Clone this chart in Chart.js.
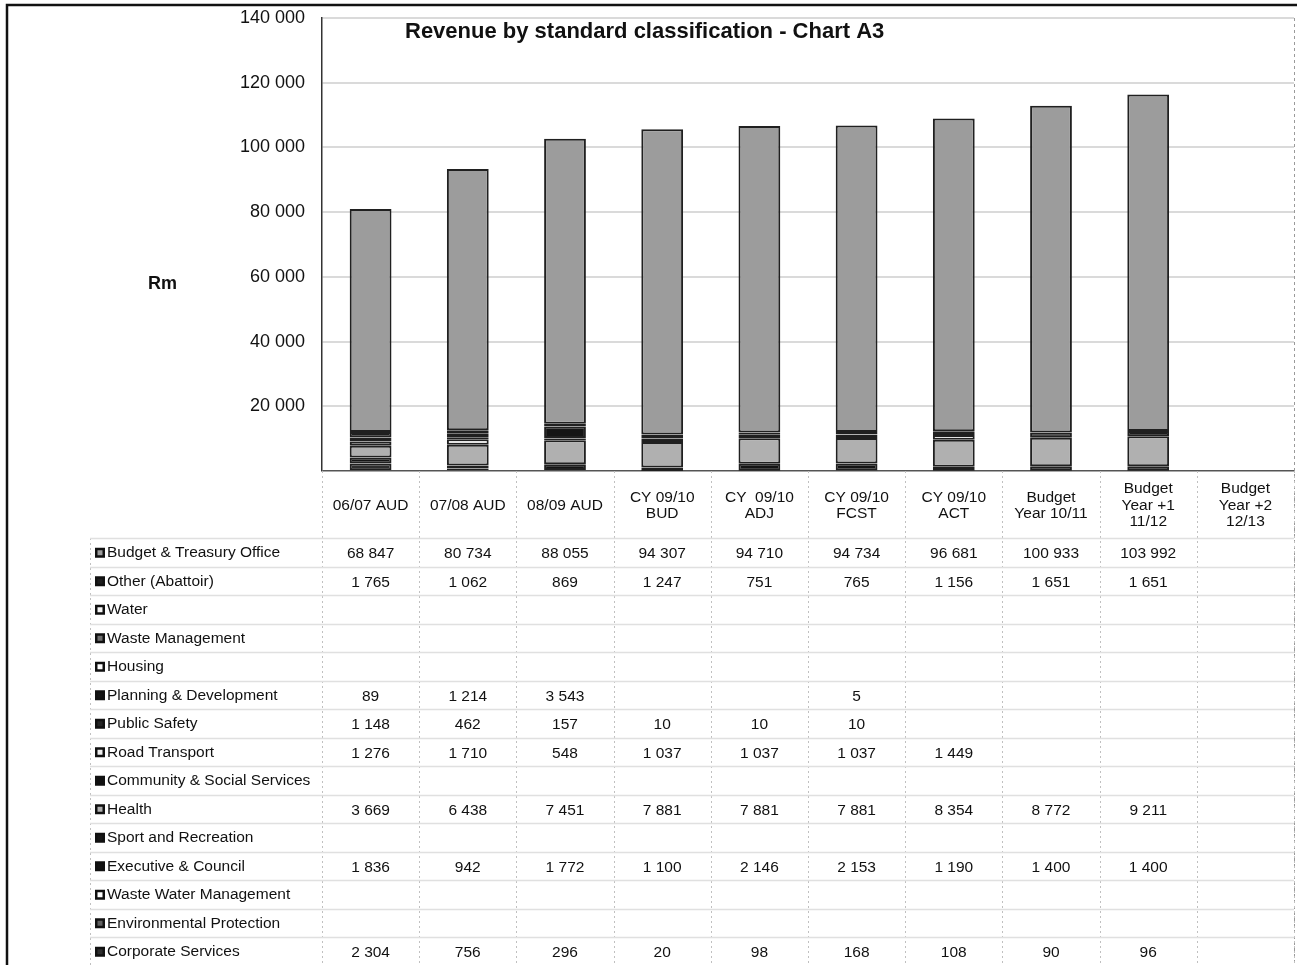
<!DOCTYPE html>
<html>
<head>
<meta charset="utf-8">
<script src="https://cdn.jsdelivr.net/npm/chart.js@4/dist/chart.umd.min.js"></script>
<style>
  html, body { margin: 0; padding: 0; background: #fff; }
  #wrap { width: 1297px; height: 965px; position: relative; }
</style>
</head>
<body>
<div id="wrap"><canvas id="revChart" width="1297" height="965"></canvas></div>
<script>
// column headings (one entry per line of the header cell)
const categories = [
  ['06/07 AUD'], ['07/08 AUD'], ['08/09 AUD'],
  ['CY 09/10', 'BUD'], ['CY  09/10', 'ADJ'], ['CY 09/10', 'FCST'], ['CY 09/10', 'ACT'],
  ['Budget', 'Year 10/11'], ['Budget', 'Year +1', '11/12'], ['Budget', 'Year +2', '12/13']
];

const budgetTreasury = [68847, 80734, 88055, 94307, 94710, 94734, 96681, 100933, 103992, null];
const otherAbattoir = [1765, 1062, 869, 1247, 751, 765, 1156, 1651, 1651, null];
const water = [null, null, null, null, null, null, null, null, null, null];
const wasteManagement = [null, null, null, null, null, null, null, null, null, null];
const housing = [null, null, null, null, null, null, null, null, null, null];
const planningDev = [89, 1214, 3543, null, null, 5, null, null, null, null];
const publicSafety = [1148, 462, 157, 10, 10, 10, null, null, null, null];
const roadTransport = [1276, 1710, 548, 1037, 1037, 1037, 1449, null, null, null];
const communitySocial = [null, null, null, null, null, null, null, null, null, null];
const health = [3669, 6438, 7451, 7881, 7881, 7881, 8354, 8772, 9211, null];
const sportRecreation = [null, null, null, null, null, null, null, null, null, null];
const executiveCouncil = [1836, 942, 1772, 1100, 2146, 2153, 1190, 1400, 1400, null];
const wasteWater = [null, null, null, null, null, null, null, null, null, null];
const environmental = [null, null, null, null, null, null, null, null, null, null];
const corporateServices = [2304, 756, 296, 20, 98, 168, 108, 90, 96, null];

const yTicks = [0, 20000, 40000, 60000, 80000, 100000, 120000, 140000];

// table order (top row first); the stack is built the other way round
const seriesNames = [
  'Budget & Treasury Office', 'Other (Abattoir)', 'Water', 'Waste Management', 'Housing',
  'Planning & Development', 'Public Safety', 'Road Transport', 'Community & Social Services',
  'Health', 'Sport and Recreation', 'Executive & Council', 'Waste Water Management',
  'Environmental Protection', 'Corporate Services'
];
const seriesValues = [
  budgetTreasury, otherAbattoir, water, wasteManagement, housing,
  planningDev, publicSafety, roadTransport, communitySocial,
  health, sportRecreation, executiveCouncil, wasteWater,
  environmental, corporateServices
];
const seriesColors = [
  '#9c9c9c', '#1e1e1e', '#f4f4f4', '#707070', '#ffffff',
  '#151515', '#262626', '#eeeeee', '#111111',
  '#b0b0b0', '#181818', '#141414', '#ffffff',
  '#606060', '#2e2e2e'
];

const FONT = '"Liberation Sans", Arial, sans-serif';

function fmt(v) {
  return String(v).replace(/\B(?=(\d{3})+(?!\d))/g, ' ');
}

const datasets = seriesNames.map((name, i) => ({
  label: name,
  data: seriesValues[i],
  backgroundColor: seriesColors[i],
  borderColor: '#202020',
  borderWidth: 2,
  borderSkipped: false,
  barPercentage: 0.43,
  categoryPercentage: 1.0
})).reverse();

const TABLE_TOP_PAD = 494;
const ROW_H = 28.5;
const HEADER_H = 67;
const LEG_LEFT = 90;

const tablePlugin = {
  id: 'dataTable',
  afterDraw(chart) {
    const ctx = chart.ctx;
    const area = chart.chartArea;
    const xs = chart.scales.x;
    const n = categories.length;
    const colW = (area.right - area.left) / n;
    const top = area.bottom;
    const rowsTop = top + HEADER_H;
    ctx.save();

    // outer frame
    ctx.strokeStyle = '#111';
    ctx.lineWidth = 2.5;
    ctx.beginPath();
    ctx.moveTo(7, 965); ctx.lineTo(7, 5); ctx.lineTo(1297, 5);
    ctx.stroke();

    // right edge of the plot
    ctx.strokeStyle = '#9a9a9a';
    ctx.lineWidth = 1;
    ctx.setLineDash([3, 3]);
    ctx.beginPath();
    ctx.moveTo(area.right + 0.5, area.top);
    ctx.lineTo(area.right + 0.5, 965);
    ctx.stroke();

    // table grid
    ctx.strokeStyle = '#c0c0c0';
    ctx.setLineDash([2, 3]);
    for (let i = 0; i <= n; i++) {
      const x = Math.round(area.left + i * colW) + 0.5;
      ctx.beginPath();
      ctx.moveTo(x, top);
      ctx.lineTo(x, 965);
      ctx.stroke();
    }
    ctx.beginPath();
    ctx.moveTo(LEG_LEFT + 0.5, rowsTop);
    ctx.lineTo(LEG_LEFT + 0.5, 965);
    ctx.stroke();
    ctx.setLineDash([]);
    ctx.strokeStyle = '#e0e0e0';
    ctx.lineWidth = 1.5;
    for (let r = 0; r <= seriesNames.length; r++) {
      const y = Math.round(rowsTop + r * ROW_H) + 0.5;
      ctx.beginPath();
      ctx.moveTo(LEG_LEFT, y);
      ctx.lineTo(area.right, y);
      ctx.stroke();
    }

    // header cells
    ctx.fillStyle = '#111';
    ctx.font = '15.5px ' + FONT;
    ctx.textAlign = 'center';
    ctx.textBaseline = 'middle';
    categories.forEach((lines, i) => {
      const cx = xs.getPixelForValue(i);
      const cy = top + HEADER_H / 2 + 1;
      lines.forEach((t, k) => {
        ctx.fillText(t, cx, cy + (k - (lines.length - 1) / 2) * 16.5);
      });
    });

    // rows
    seriesNames.forEach((name, r) => {
      const cy = rowsTop + r * ROW_H + ROW_H / 2 + 0.5;
      // legend key
      ctx.fillStyle = '#111';
      ctx.fillRect(95, cy - 5, 10, 10);
      ctx.fillStyle = seriesColors[r];
      ctx.fillRect(97.5, cy - 2.5, 5, 5);
      ctx.fillStyle = '#111';
      ctx.textAlign = 'left';
      ctx.fillText(name, 107, cy);
      ctx.textAlign = 'center';
      seriesValues[r].forEach((v, i) => {
        if (v === null) return;
        ctx.fillText(fmt(v), xs.getPixelForValue(i), cy + 1);
      });
    });

    // title and axis title
    ctx.textAlign = 'left';
    ctx.font = 'bold 22px ' + FONT;
    ctx.fillText('Revenue by standard classification - Chart A3', 405, 32);
    ctx.font = 'bold 18px ' + FONT;
    ctx.fillText('Rm', 148, 284);
    ctx.restore();
  }
};

new Chart(document.getElementById('revChart').getContext('2d'), {
  type: 'bar',
  data: {
    labels: categories,
    datasets: datasets
  },
  options: {
    responsive: false,
    animation: false,
    layout: { padding: { top: 18, right: 3, bottom: TABLE_TOP_PAD, left: 0 } },
    scales: {
      x: {
        stacked: true,
        display: false
      },
      y: {
        stacked: true,
        min: 0,
        max: 140000,
        afterFit: (s) => { s.width = 322; s.paddingTop = 0; s.paddingBottom = 0; },
        afterBuildTicks: (s) => { s.ticks = yTicks.map((v) => ({ value: v })); },
        ticks: {
          padding: 17,
          color: '#111',
          font: { family: FONT, size: 18 },
          callback: (v) => (v === 0 ? '' : fmt(v))
        },
        grid: {
          drawTicks: false,
          color: (c) => (c.tick && c.tick.value === 0 ? '#555' : '#dadada'),
          lineWidth: (c) => (c.tick && c.tick.value === 0 ? 1.5 : 2)
        },
        border: { display: true, color: '#333', width: 1.5 }
      }
    },
    plugins: {
      legend: { display: false },
      title: { display: false }
    }
  },
  plugins: [tablePlugin]
});
</script>
</body>
</html>
